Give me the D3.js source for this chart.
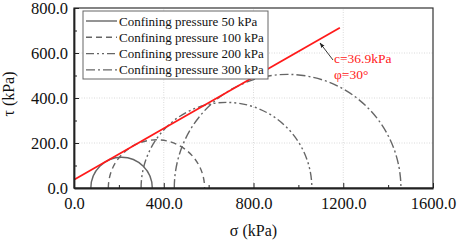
<!DOCTYPE html>
<html>
<head>
<meta charset="utf-8">
<script src="https://cdn.jsdelivr.net/npm/d3@7"></script>
<style>
body { margin: 0; background: #fff; }
text { font-family: "Liberation Serif", "Times New Roman", serif; }
</style>
</head>
<body>
<div id="chart"></div>
<script>
// Mohr circles (kPa)
var legendLabels = ["Confining pressure 50 kPa", "Confining pressure 100 kPa",
                    "Confining pressure 200 kPa", "Confining pressure 300 kPa"];
var sigma3 = [75, 153, 299, 447];
var sigma1 = [349, 582, 1060, 1457];
var dashes = ["none", "6,4", "8,3,2,3,2,3", "9,3,2,3"];

// strength envelope end points
var envSigma = [0, 1185];
var envTau = [37, 712];
var envText = ["c=36.9kPa", "\u03c6=30\u00b0"];

var xTicks = [0, 400, 800, 1200, 1600];
var yTicks = [0, 200, 400, 600, 800];

var W = 457, H = 242;
var m = {left: 74, right: 24, top: 8, bottom: 54};

var svg = d3.select('#chart').append('svg')
    .attr('width', W).attr('height', H);

var x = d3.scaleLinear().domain([0, 1600]).range([m.left, W - m.right]);
var y = d3.scaleLinear().domain([0, 800]).range([H - m.bottom, m.top]);

var defs = svg.append('defs');
defs.append('clipPath').attr('id', 'clip').append('rect')
    .attr('x', x(0)).attr('y', y(800))
    .attr('width', x(1600) - x(0)).attr('height', y(0) - y(800));
defs.append('marker').attr('id', 'arrow')
    .attr('viewBox', '0 0 10 10').attr('refX', 9).attr('refY', 5)
    .attr('markerWidth', 6).attr('markerHeight', 6).attr('orient', 'auto')
    .append('path').attr('d', 'M0,1.5 L10,5 L0,8.5 Z').attr('fill', '#222');

// grid
var grid = svg.append('g');
grid.selectAll('.gx').data(xTicks.slice(1, -1)).enter().append('line')
    .attr('x1', d => x(d)).attr('x2', d => x(d))
    .attr('y1', y(0)).attr('y2', y(800))
    .attr('stroke', '#d0d0d0').attr('stroke-width', 0.8).attr('stroke-dasharray', '1,1.5');
grid.selectAll('.gy').data(yTicks.slice(1, -1)).enter().append('line')
    .attr('y1', d => y(d)).attr('y2', d => y(d))
    .attr('x1', x(0)).attr('x2', x(1600))
    .attr('stroke', '#d0d0d0').attr('stroke-width', 0.8).attr('stroke-dasharray', '1,1.5');

var plot = svg.append('g').attr('clip-path', 'url(#clip)');

// circles drawn as upper half arcs
plot.selectAll('path.circle').data(sigma3).enter().append('path')
    .attr('class', 'circle')
    .attr('d', function(d, i) {
        var r = (sigma1[i] - d) / 2;
        var rx = x(r) - x(0), ry = y(0) - y(r);
        return 'M' + x(d) + ',' + y(0) + ' A' + rx + ',' + ry + ' 0 0 1 ' + x(sigma1[i]) + ',' + y(0);
    })
    .attr('fill', 'none').attr('stroke', '#666').attr('stroke-width', 1.4)
    .attr('stroke-dasharray', (d, i) => dashes[i]);

// envelope
plot.append('path')
    .datum(envSigma.map((s, i) => [s, envTau[i]]))
    .attr('d', d3.line().x(d => x(d[0])).y(d => y(d[1])))
    .attr('fill', 'none').attr('stroke', '#ff1a1a').attr('stroke-width', 1.8);

// frame
svg.append('rect')
    .attr('x', x(0)).attr('y', y(800))
    .attr('width', x(1600) - x(0)).attr('height', y(0) - y(800))
    .attr('fill', 'none').attr('stroke', '#333').attr('stroke-width', 1.2);

// axes with inner ticks
var xAxis = svg.append('g').attr('transform', 'translate(0,' + y(0) + ')')
    .call(d3.axisBottom(x).tickValues(xTicks).tickSizeInner(-5).tickSizeOuter(0)
        .tickFormat(d3.format('.1f')).tickPadding(9));
svg.append('g').attr('transform', 'translate(0,' + y(0) + ')')
    .call(d3.axisBottom(x).tickValues(d3.range(200, 1600, 400)).tickSize(-3).tickFormat(''))
    .call(g => g.select('.domain').remove());
var yAxis = svg.append('g').attr('transform', 'translate(' + x(0) + ',0)')
    .call(d3.axisLeft(y).tickValues(yTicks).tickSizeInner(-5).tickSizeOuter(0)
        .tickFormat(d3.format('.1f')).tickPadding(6));
svg.append('g').attr('transform', 'translate(' + x(0) + ',0)')
    .call(d3.axisLeft(y).tickValues(d3.range(100, 800, 200)).tickSize(-3).tickFormat(''))
    .call(g => g.select('.domain').remove());

svg.selectAll('.domain').attr('stroke', '#222').attr('stroke-width', 1.8);
svg.selectAll('.tick line').attr('stroke', '#222').attr('stroke-width', 1);
svg.selectAll('.tick text').attr('font-family', '"Liberation Serif", serif')
    .attr('font-size', 16.5).attr('fill', '#111');

// axis titles
svg.append('text').attr('x', x(800)).attr('y', 236)
    .attr('text-anchor', 'middle').attr('font-size', 16).attr('fill', '#111')
    .text('\u03c3 (kPa)');
svg.append('text').attr('transform', 'translate(14,' + 94 + ') rotate(-90)')
    .attr('text-anchor', 'middle').attr('font-size', 16).attr('fill', '#111')
    .text('\u03c4 (kPa)');

// legend
var lg = svg.append('g').attr('transform', 'translate(83,11)');
lg.append('rect').attr('width', 185).attr('height', 68)
    .attr('fill', '#fff').attr('stroke', '#666').attr('stroke-width', 1);
var rows = lg.selectAll('g.row').data(legendLabels).enter().append('g')
    .attr('transform', (d, i) => 'translate(0,' + (10 + i * 16.3) + ')');
rows.append('line').attr('x1', 3).attr('x2', 34)
    .attr('stroke', '#666').attr('stroke-width', 1.4)
    .attr('stroke-dasharray', (d, i) => dashes[i]);
rows.append('text').attr('x', 36).attr('y', 4.5)
    .attr('font-size', 13).attr('fill', '#111').text(d => d);

// annotation
svg.append('line').attr('x1', 333).attr('y1', 60).attr('x2', 320).attr('y2', 43)
    .attr('stroke', '#222').attr('stroke-width', 0.9).attr('marker-end', 'url(#arrow)');
svg.selectAll('text.note').data(envText).enter().append('text')
    .attr('class', 'note')
    .attr('x', 334).attr('y', (d, i) => 63 + i * 15.5)
    .attr('font-size', 13.5).attr('fill', '#ff2020').text(d => d);
</script>
</body>
</html>
